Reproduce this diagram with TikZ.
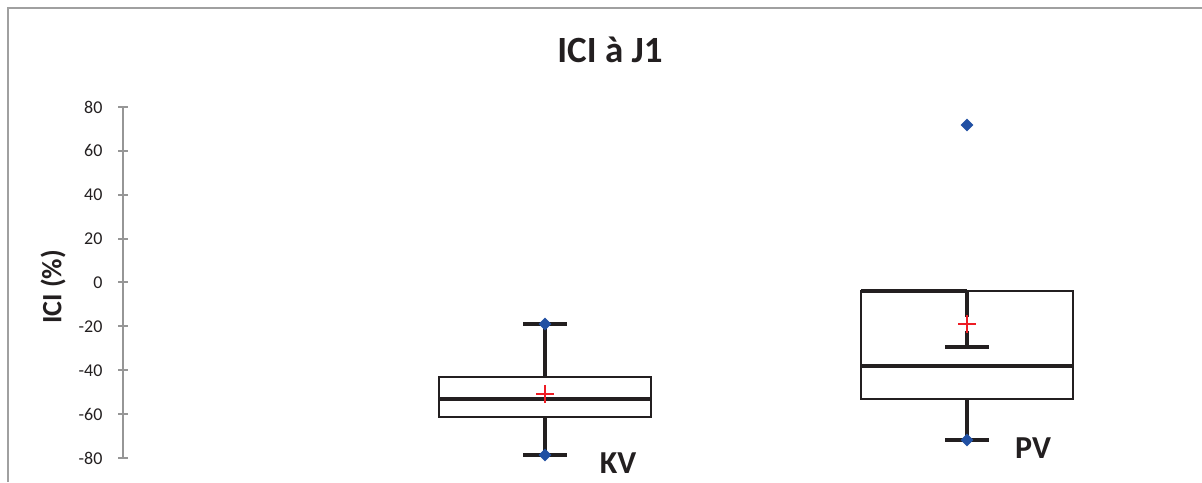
\documentclass[tikz,border=0pt]{standalone}
\usepackage{fontspec}
\setmainfont{Carlito}
\usetikzlibrary{shapes.geometric}
\definecolor{ciframe}{RGB}{160,160,160}
\definecolor{ciaxis}{RGB}{150,150,150}
\definecolor{citext}{RGB}{35,31,32}
\definecolor{cidot}{RGB}{33,80,163}
\definecolor{cimean}{RGB}{237,28,36}
\tikzset{
  boxline/.style={line width=2.7pt, draw=citext},
  whisker/.style={line width=3.2pt, draw=citext},
  outlier/.style={diamond, fill=cidot, inner sep=0pt, minimum size=13pt},
  meanmark/.style={line width=2pt, draw=cimean},
  ticklabel/.style={anchor=east, font=\fontsize{18}{18}\selectfont, text=citext},
  grouplabel/.style={font=\fontsize{32}{32}\selectfont\bfseries, text=citext}
}

\begin{document}
\begin{tikzpicture}[x=1pt,y=1pt]
\useasboundingbox (0,0) rectangle (1202,482);

% Frame of the chart area
\draw[ciframe, line width=1.5pt] (8,0) -- (8,474) -- (1202,474);

% Title
\node (title) [font=\fontsize{37}{37}\selectfont\bfseries, text=citext] at (610,432) {ICI à J1};

% Axis label
\node (ylab) [rotate=90, font=\fontsize{28}{28}\selectfont\bfseries, text=citext] at (53,195) {ICI (\%)};

% Data frame: v -> 199.5 + 2.194 v
\begin{scope}[shift={(0,199.5)}, y=2.194pt]
% Axis and ticks
\draw[ciaxis, line width=2pt] (123,-80) -- (123,80);
\foreach \v in {-80,-60,...,80} {
  \draw[ciaxis, line width=2pt] (118,\v) -- (128,\v);
  \node[ticklabel] at (106,\v) {\v};
}

% KV box
\coordinate (kvtop) at (545,-18.9);
\coordinate (kvq3) at (545,-43.1);
\coordinate (kvq1) at (545,-61.3);
\coordinate (kvlow) at (545,-78.6);
\draw[boxline] (439,-43.1) rectangle (651,-61.3);
\draw[whisker] (439,-53.1) -- (651,-53.1);
\draw[whisker] (kvq3) -- (kvtop);
\draw[whisker] (kvq1) -- (kvlow);
\draw[whisker] (523,-18.9) -- (567,-18.9);
\draw[whisker] (523,-78.6) -- (567,-78.6);
\node (kvmax) [outlier] at (kvtop) {};
\node (kvmin) [outlier] at (kvlow) {};
\draw[meanmark] (536,-50.8) -- (554,-50.8);
\draw[meanmark] (545,-46.7) -- (545,-54.9);

% PV box
\coordinate (pvq3) at (967,-3.9);
\coordinate (pvcap) at (967,-29.4);
\coordinate (pvq1) at (967,-53.1);
\coordinate (pvlow) at (967,-71.8);
\draw[boxline] (861,-3.9) rectangle (1073,-53.1);
\draw[whisker] (861,-38.1) -- (1073,-38.1);
\draw[whisker] (861,-3.9) -- (967,-3.9);
\draw[whisker] (pvq3) -- (pvcap);
\draw[whisker] (pvq1) -- (pvlow);
\draw[whisker] (945,-29.4) -- (989,-29.4);
\draw[whisker] (945,-71.8) -- (989,-71.8);
\node (pvmin) [outlier] at (pvlow) {};
\node (pvout) [outlier] at (967,71.8) {};
\draw[line width=4pt, white] (967,-15.5) -- (967,-22.3);
\draw[meanmark] (958,-18.9) -- (976,-18.9);
\draw[meanmark] (967,-14.8) -- (967,-23);
\end{scope}

% Group labels
\node (kv) [grouplabel] at (618,19) {KV};
\node (pv) [grouplabel] at (1033,34) {PV};
\end{tikzpicture}
\end{document}
